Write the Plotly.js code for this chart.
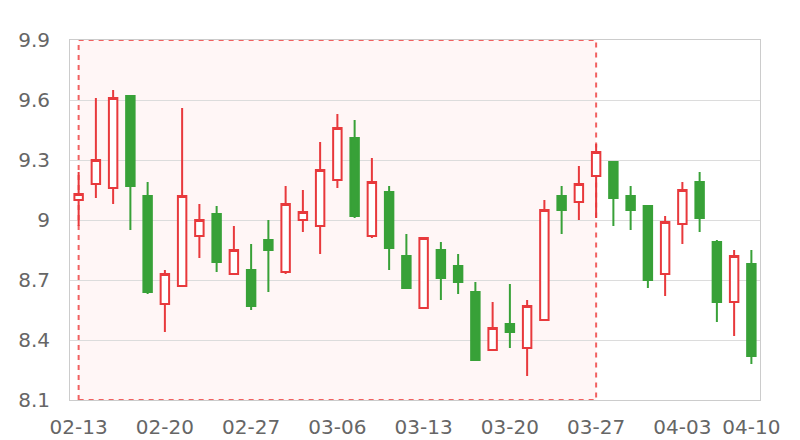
<!DOCTYPE html>
<html><head><meta charset="utf-8">
<script src="https://cdn.plot.ly/plotly-3.0.1.min.js"></script>
<style>html,body{margin:0;padding:0;background:#fff}#chart{width:800px;height:440px}</style>
</head><body><div id="chart"></div>
<script>
const dates = ['02-13','02-14','02-15','02-16','02-17','02-20','02-21','02-22','02-23','02-24',
  '02-27','02-28','03-01','03-02','03-03','03-06','03-07','03-08','03-09','03-10',
  '03-13','03-14','03-15','03-16','03-17','03-20','03-21','03-22','03-23','03-24',
  '03-27','03-28','03-29','03-30','03-31','04-03','04-05','04-06','04-07','04-10'];
const openVals  = [9.10,9.18,9.16,9.62,9.12,8.58,8.67,8.92,9.03,8.73,
  8.75,8.90,8.74,9.00,8.97,9.20,9.41,8.92,9.14,8.82,
  8.56,8.85,8.77,8.64,8.35,8.48,8.36,8.50,9.12,9.09,
  9.22,9.29,9.12,9.07,8.73,8.98,9.19,8.89,8.59,8.78];
const closeVals = [9.13,9.30,9.61,9.17,8.64,8.73,9.12,9.00,8.79,8.85,
  8.57,8.85,9.08,9.04,9.25,9.46,9.02,9.19,8.86,8.66,
  8.91,8.71,8.69,8.30,8.46,8.44,8.57,9.05,9.05,9.18,
  9.34,9.11,9.05,8.70,8.99,9.15,9.01,8.59,8.82,8.32];
const highVals  = [9.24,9.61,9.65,9.62,9.19,8.75,9.56,9.08,9.07,8.97,
  8.88,9.00,9.17,9.15,9.39,9.53,9.50,9.31,9.17,8.93,
  8.91,8.89,8.83,8.69,8.59,8.68,8.60,9.10,9.17,9.27,
  9.38,9.29,9.17,9.07,9.02,9.19,9.24,8.90,8.85,8.85];
const lowVals   = [8.97,9.11,9.08,8.95,8.63,8.44,8.67,8.81,8.74,8.73,
  8.55,8.64,8.73,8.94,8.83,9.16,9.01,8.91,8.75,8.66,
  8.56,8.60,8.63,8.30,8.35,8.36,8.22,8.50,8.93,9.00,
  9.01,8.97,8.95,8.66,8.62,8.88,8.94,8.49,8.42,8.28];
const xTickLabels = ['02-13','02-20','02-27','03-06','03-13','03-20','03-27','04-03','04-10'];
const yTickVals = [8.1,8.4,8.7,9,9.3,9.6,9.9];
const yTickText = ['8.1','8.4','8.7','9','9.3','9.6','9.9'];
const markAreaDates = ['02-13','03-27'];
const markAreaValues = [8.1, 9.9];

const RED = '#e8393c', GREEN = '#38a138';
const trace = {
  type: 'candlestick', x: dates, open: openVals, close: closeVals, high: highVals, low: lowVals,
  increasing: {line: {color: RED, width: 2}, fillcolor: '#ffffff'},
  decreasing: {line: {color: GREEN, width: 2}, fillcolor: GREEN},
  hoverinfo: 'skip', showlegend: false
};
const font = {family: 'DejaVu Sans, sans-serif', size: 20, color: '#666666'};
const layout = {
  width: 800, height: 440,
  margin: {l: 70, r: 40, t: 40, b: 40},
  paper_bgcolor: '#ffffff', plot_bgcolor: '#ffffff',
  showlegend: false,
  xaxis: {
    type: 'category', range: [-0.5, dates.length - 0.5],
    rangeslider: {visible: false},
    tickmode: 'array', tickvals: xTickLabels, ticktext: xTickLabels,
    showgrid: false, showline: true, linecolor: '#cccccc', linewidth: 1, mirror: true,
    ticks: '', tickfont: font, ticklabelstandoff: 9, zeroline: false
  },
  yaxis: {
    range: [markAreaValues[0], markAreaValues[1]],
    tickmode: 'array', tickvals: yTickVals, ticktext: yTickText,
    showgrid: true, gridcolor: '#dcdcdc', gridwidth: 1,
    showline: true, linecolor: '#cccccc', linewidth: 1, mirror: true,
    ticks: '', tickfont: font, ticklabelstandoff: 15, zeroline: false
  },
  shapes: [{
    type: 'rect', xref: 'x', yref: 'y', layer: 'below',
    x0: dates.indexOf(markAreaDates[0]), x1: dates.indexOf(markAreaDates[1]),
    y0: markAreaValues[0], y1: markAreaValues[1],
    fillcolor: '#fff6f6',
    line: {color: 'rgba(240,80,80,0.9)', width: 2, dash: '5px,5px'}
  }]
};
Plotly.newPlot('chart', [trace], layout, {staticPlot: true, displayModeBar: false});
</script>
</body></html>
